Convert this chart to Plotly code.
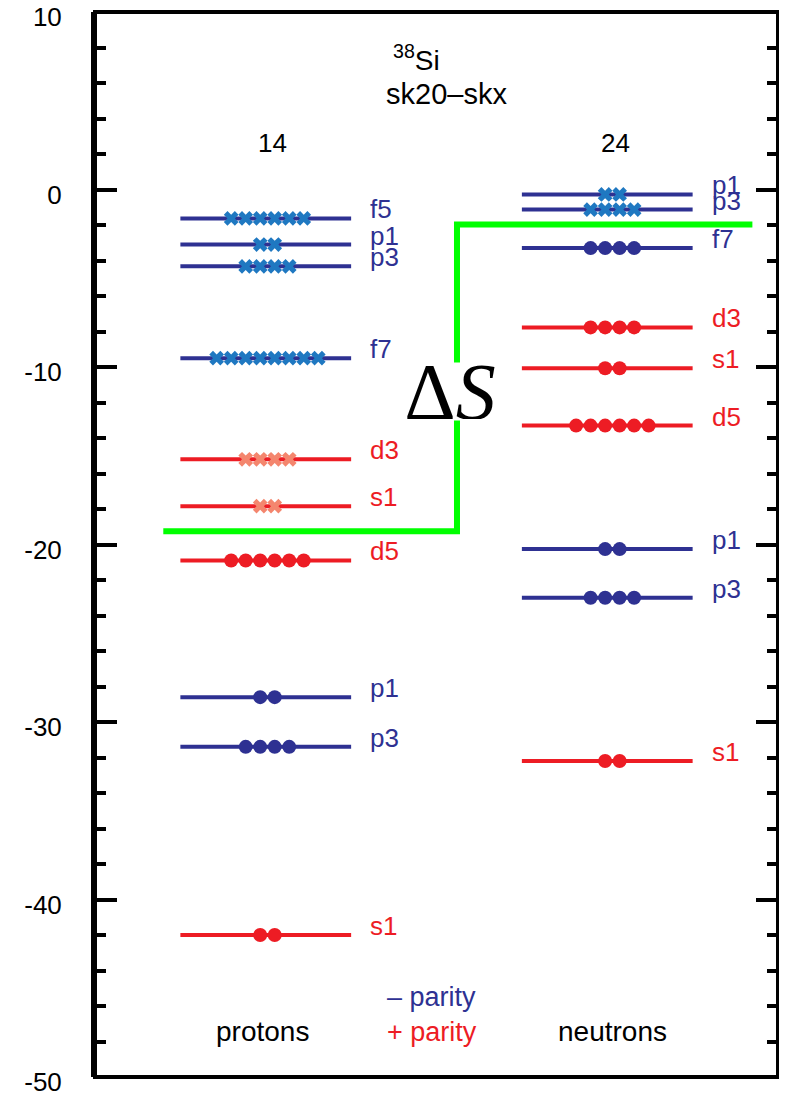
import plotly.graph_objects as go

# ---------------- data ----------------
prot_labels = ["f5", "p1", "p3", "f7", "d3", "s1", "d5", "p1", "p3", "s1"]
prot_energy = [-1.63, -3.1, -4.33, -9.5, -15.2, -17.84, -20.9, -28.6, -31.4, -42.0]
prot_parity = ["-", "-", "-", "-", "+", "+", "+", "-", "-", "+"]
prot_filled = [0, 0, 0, 0, 0, 0, 6, 2, 4, 2]
prot_empty = [6, 2, 4, 8, 4, 2, 0, 0, 0, 0]

neut_labels = ["p1", "p3", "f7", "d3", "s1", "d5", "p1", "p3", "s1"]
neut_energy = [-0.28, -1.13, -3.3, -7.77, -10.07, -13.3, -20.26, -23.0, -32.2]
neut_parity = ["-", "-", "-", "+", "+", "+", "-", "-", "+"]
neut_filled = [0, 0, 4, 4, 2, 6, 2, 4, 2]
neut_empty = [2, 4, 0, 0, 0, 0, 0, 0, 0]

# Fermi-surface step (Delta S)
step_x = [0.40, 2.12, 2.12, 3.85]
step_y = [-19.25, -19.25, -1.97, -1.97]

y_ticks = [10, 0, -10, -20, -30, -40, -50]
y_ticktext = ["10", "0", "-10", "-20", "-30", "-40", "-50"]

# ---------------- styles ----------------
BLUE = "#2e3192"
RED = "#ed1c24"
XBLUE = "#1f78c1"
XRED = "#f4866e"
GREEN = "#00ff00"
FONT = "Liberation Sans, Arial, sans-serif"
FS = 26

PROT_X, NEUT_X = 1.0, 3.0
PROT_MX, NEUT_MX = 1.01, 3.03
HALF = 0.5
SPACING = 0.085

fig = go.Figure()

def add_column(cx, mx, labels, energy, parity, filled, empty):
    for lab, e, par, nf, ne in zip(labels, energy, parity, filled, empty):
        col = BLUE if par == "-" else RED
        xcol = XBLUE if par == "-" else XRED
        fig.add_trace(go.Scatter(x=[cx - HALF, cx + HALF], y=[e, e], mode="lines",
                                 line=dict(color=col, width=4), hoverinfo="skip",
                                 showlegend=False))
        if nf:
            xs = [mx + (i - (nf - 1) / 2) * SPACING for i in range(nf)]
            fig.add_trace(go.Scatter(x=xs, y=[e] * nf, mode="markers",
                                     marker=dict(symbol="circle", size=14, color=col),
                                     hoverinfo="skip", showlegend=False))
        if ne:
            xs = [mx + (i - (ne - 1) / 2) * SPACING for i in range(ne)]
            fig.add_trace(go.Scatter(x=xs, y=[e] * ne, mode="markers",
                                     marker=dict(symbol="x", size=13, color=xcol,
                                                 line=dict(width=0)),
                                     hoverinfo="skip", showlegend=False))
        fig.add_annotation(x=cx + 0.6, y=e, text=lab, showarrow=False,
                           xanchor="left", yanchor="middle", yshift=9,
                           font=dict(family=FONT, size=FS, color=col))

add_column(PROT_X, PROT_MX, prot_labels, prot_energy, prot_parity, prot_filled, prot_empty)
add_column(NEUT_X, NEUT_MX, neut_labels, neut_energy, neut_parity, neut_filled, neut_empty)

fig.add_trace(go.Scatter(x=step_x, y=step_y, mode="lines",
                         line=dict(color=GREEN, width=6), hoverinfo="skip",
                         showlegend=False))

def txt(x, y, s, size=FS, color="black", xanchor="center", **kw):
    fig.add_annotation(x=x, y=y, text=s, showarrow=False, xanchor=xanchor,
                       yanchor="middle", font=dict(family=FONT, size=size, color=color), **kw)

txt(1.88, 7.4, "<sup>38</sup>Si", size=28)
txt(2.06, 5.4, "sk20\u2013skx", size=29)
txt(1.04, 2.6, "14")
txt(3.05, 2.6, "24")
txt(0.98, -47.45, "protons", size=28)
txt(3.03, -47.45, "neutrons", size=28)
txt(1.70, -45.5, "\u2013 parity", color=BLUE, xanchor="left", size=27)
txt(1.70, -47.45, "+ parity", color=RED, xanchor="left", size=27)

fig.add_annotation(x=2.08, y=-11.4, text="\u0394<i>S</i>", showarrow=False,
                   xanchor="center", yanchor="middle", bgcolor="white",
                   height=55, width=112,
                   font=dict(family="Liberation Serif, Times New Roman, serif",
                             size=80, color="black"))

# plot frame
fig.add_shape(type="rect", xref="paper", yref="paper", x0=0, x1=1, y0=0, y1=1,
              line=dict(color="black", width=4), layer="above")

# page body has an 8px margin, so the figure is 8px smaller than the window
fig.update_layout(
    width=779, height=1087,
    margin=dict(l=87, r=9, t=4, b=18, autoexpand=False),
    paper_bgcolor="white", plot_bgcolor="white",
    showlegend=False,
    xaxis=dict(range=[0, 4], showgrid=False, zeroline=False, showticklabels=False,
               ticks="", showline=False, automargin=False),
    yaxis=dict(range=[-50, 10], showgrid=False, zeroline=False,
               tickvals=y_ticks, ticktext=y_ticktext,
               ticks="inside", ticklen=22, tickwidth=4, tickcolor="black",
               minor=dict(dtick=2, ticks="inside", ticklen=11, tickwidth=4,
                          tickcolor="black", showgrid=False),
               showline=True, linecolor="black", linewidth=4, mirror="ticks",
               ticklabelstandoff=24, ticklabelshift=5, automargin=False,
               ticklabeloverflow="allow",
               tickfont=dict(family=FONT, size=FS, color="black")),
)

fig.write_html("out.html")
